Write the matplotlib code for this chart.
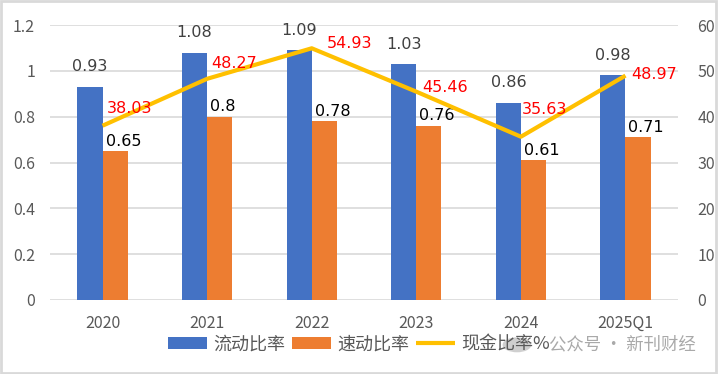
import matplotlib.pyplot as plt
from matplotlib.patches import Rectangle, Circle
import numpy as np

plt.rcParams['font.family'] = ['Noto Sans CJK SC', 'DejaVu Sans']

categories = ["2020", "2021", "2022", "2023", "2024", "2025Q1"]
current_ratio = [0.93, 1.08, 1.09, 1.03, 0.86, 0.98]
quick_ratio = [0.65, 0.8, 0.78, 0.76, 0.61, 0.71]
cash_ratio = [38.03, 48.27, 54.93, 45.46, 35.63, 48.97]

BLUE = "#4472C4"
ORANGE = "#ED7D31"
GOLD = "#FFC000"
GRID = "#D9D9D9"
TXT = "#595959"

fig = plt.figure(figsize=(7.18, 3.74), dpi=100)
ax = fig.add_axes([0.07, 0.198, 0.874, 0.735])
ax2 = ax.twinx()

x = np.arange(len(categories))
w = 0.24
b1 = ax.bar(x - w / 2, current_ratio, w, color=BLUE, zorder=2)
b2 = ax.bar(x + w / 2, quick_ratio, w, color=ORANGE, zorder=2)
ln, = ax2.plot(x, cash_ratio, color=GOLD, lw=3, zorder=3, solid_capstyle='butt')

ax.set_xlim(-0.5, len(categories) - 0.5)
ax.set_ylim(0, 1.2)
ax2.set_ylim(0, 60)
ax.set_yticks(np.arange(0, 1.21, 0.2))
ax.set_yticklabels(["0", "0.2", "0.4", "0.6", "0.8", "1", "1.2"])
ax2.set_yticks(range(0, 61, 10))
ax.set_xticks(x)
ax.set_xticklabels(categories)
ax.grid(axis='y', color=GRID, lw=1.2, zorder=0)
ax.set_axisbelow(True)
for a in (ax, ax2):
    for s in a.spines.values():
        s.set_visible(False)
    a.tick_params(length=0, labelsize=11.5, colors=TXT)
ax.tick_params(axis='x', pad=11)
ax.tick_params(axis='y', pad=11)
ax2.tick_params(axis='y', pad=14)
ax2.set_zorder(ax.get_zorder() + 1)
ax2.patch.set_visible(False)

# data labels
for xi, v in zip(x, current_ratio):
    ax.annotate(f"{v:g}", (xi - w / 2, v), xytext=(0, 20), textcoords='offset pixels',
                ha='center', va='center', fontsize=11.5, color="#404040", family='DejaVu Sans')
for xi, v in zip(x, quick_ratio):
    ax.annotate(f"{v:g}", (xi, v), xytext=(3, 10), textcoords='offset pixels',
                ha='left', va='center', fontsize=11.5, color="black", family='DejaVu Sans')
red_offsets = [(4, 17), (4, 15), (15, 5), (6, 4), (1, 27), (6, 1)]
for xi, v, off in zip(x, cash_ratio, red_offsets):
    ax2.annotate(f"{v:.2f}", (xi, v), xytext=off, textcoords='offset pixels',
                 ha='left', va='center', fontsize=11.5, color="red", family='DejaVu Sans')

fig.legend([b1, b2, ln], ["流动比率", "速动比率", "现金比率%"], loc='center',
           bbox_to_anchor=(0.5, 0.08), ncol=3, frameon=False, fontsize=13,
           handlelength=2.15, handleheight=0.65, columnspacing=0.4, handletextpad=0.35,
           labelcolor=TXT, borderaxespad=0)

# watermark
fig.patches.append(Circle((0.72, 0.078), 0.02, transform=fig.transFigure,
                          facecolor="#B0B0B0", edgecolor='none', alpha=0.6))
fig.text(0.765, 0.078, "公众号 · 新刊财经", fontsize=12.5, color="#9A9A9A", alpha=0.85,
         va='center', ha='left')

fig.patches.append(Rectangle((0.002, 0.003), 0.995, 0.993, transform=fig.transFigure,
                             fill=False, edgecolor=GRID, lw=2))

fig.savefig("out.png", dpi=100)
